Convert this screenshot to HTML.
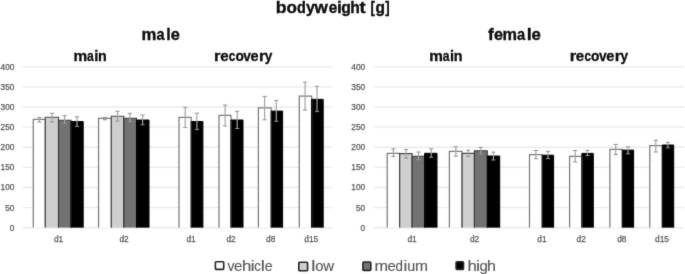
<!DOCTYPE html>
<html><head><meta charset="utf-8"><title>bodyweight</title>
<style>
html,body{margin:0;padding:0;background:#fff;}
body{width:685px;height:274px;overflow:hidden;}
svg{display:block;}
text{font-family:"Liberation Sans",sans-serif;}
.ax{font-size:8.3px;fill:#595959;stroke:#595959;stroke-width:0.25px;}
.t{font-size:16.5px;font-weight:bold;fill:#0d0d0d;stroke:#0d0d0d;stroke-width:0.35px;}
.s{font-size:14.5px;font-weight:bold;fill:#0d0d0d;stroke:#0d0d0d;stroke-width:0.3px;}
.lg{font-size:14.2px;fill:#595959;stroke:#595959;stroke-width:0.15px;}
</style></head>
<body>
<svg width="685" height="274" viewBox="0 0 685 274">
<defs><filter id="bl" x="0" y="0" width="685" height="274" filterUnits="userSpaceOnUse" color-interpolation-filters="sRGB"><feConvolveMatrix order="3" kernelMatrix="0.0113 0.0838 0.0113 0.0838 0.6193 0.0838 0.0113 0.0838 0.0113" divisor="1" edgeMode="duplicate"/></filter></defs>
<g filter="url(#bl)">
<rect width="685" height="274" fill="#fff"/>
<line x1="22.6" y1="227.80" x2="331.5" y2="227.80" stroke="#ebebeb" stroke-width="1.4"/>
<line x1="373.8" y1="227.80" x2="684" y2="227.80" stroke="#ebebeb" stroke-width="1.4"/>
<text x="14.4" y="230.70" text-anchor="end" class="ax">0</text>
<text x="365.2" y="230.70" text-anchor="end" class="ax">0</text>
<line x1="22.6" y1="207.66" x2="331.5" y2="207.66" stroke="#ebebeb" stroke-width="1.4"/>
<line x1="373.8" y1="207.66" x2="684" y2="207.66" stroke="#ebebeb" stroke-width="1.4"/>
<text x="14.4" y="210.56" text-anchor="end" class="ax">50</text>
<text x="365.2" y="210.56" text-anchor="end" class="ax">50</text>
<line x1="22.6" y1="187.53" x2="331.5" y2="187.53" stroke="#ebebeb" stroke-width="1.4"/>
<line x1="373.8" y1="187.53" x2="684" y2="187.53" stroke="#ebebeb" stroke-width="1.4"/>
<text x="14.4" y="190.43" text-anchor="end" class="ax">100</text>
<text x="365.2" y="190.43" text-anchor="end" class="ax">100</text>
<line x1="22.6" y1="167.39" x2="331.5" y2="167.39" stroke="#ebebeb" stroke-width="1.4"/>
<line x1="373.8" y1="167.39" x2="684" y2="167.39" stroke="#ebebeb" stroke-width="1.4"/>
<text x="14.4" y="170.29" text-anchor="end" class="ax">150</text>
<text x="365.2" y="170.29" text-anchor="end" class="ax">150</text>
<line x1="22.6" y1="147.25" x2="331.5" y2="147.25" stroke="#ebebeb" stroke-width="1.4"/>
<line x1="373.8" y1="147.25" x2="684" y2="147.25" stroke="#ebebeb" stroke-width="1.4"/>
<text x="14.4" y="150.15" text-anchor="end" class="ax">200</text>
<text x="365.2" y="150.15" text-anchor="end" class="ax">200</text>
<line x1="22.6" y1="127.11" x2="331.5" y2="127.11" stroke="#ebebeb" stroke-width="1.4"/>
<line x1="373.8" y1="127.11" x2="684" y2="127.11" stroke="#ebebeb" stroke-width="1.4"/>
<text x="14.4" y="130.01" text-anchor="end" class="ax">250</text>
<text x="365.2" y="130.01" text-anchor="end" class="ax">250</text>
<line x1="22.6" y1="106.98" x2="331.5" y2="106.98" stroke="#ebebeb" stroke-width="1.4"/>
<line x1="373.8" y1="106.98" x2="684" y2="106.98" stroke="#ebebeb" stroke-width="1.4"/>
<text x="14.4" y="109.88" text-anchor="end" class="ax">300</text>
<text x="365.2" y="109.88" text-anchor="end" class="ax">300</text>
<line x1="22.6" y1="86.84" x2="331.5" y2="86.84" stroke="#ebebeb" stroke-width="1.4"/>
<line x1="373.8" y1="86.84" x2="684" y2="86.84" stroke="#ebebeb" stroke-width="1.4"/>
<text x="14.4" y="89.74" text-anchor="end" class="ax">350</text>
<text x="365.2" y="89.74" text-anchor="end" class="ax">350</text>
<line x1="22.6" y1="66.70" x2="331.5" y2="66.70" stroke="#ebebeb" stroke-width="1.4"/>
<line x1="373.8" y1="66.70" x2="684" y2="66.70" stroke="#ebebeb" stroke-width="1.4"/>
<text x="14.4" y="69.60" text-anchor="end" class="ax">400</text>
<text x="365.2" y="69.60" text-anchor="end" class="ax">400</text>
<rect x="33.30" y="119.40" width="11.95" height="108.20" fill="#ffffff"/>
<rect x="45.25" y="117.20" width="13.25" height="110.40" fill="#cfcfcf"/>
<rect x="58.50" y="120.30" width="12.50" height="107.30" fill="#727272"/>
<rect x="71.00" y="121.60" width="12.20" height="106.00" fill="#000000"/>
<rect x="98.55" y="118.30" width="12.75" height="109.30" fill="#ffffff"/>
<rect x="111.30" y="116.30" width="12.50" height="111.30" fill="#cfcfcf"/>
<rect x="123.80" y="118.30" width="12.70" height="109.30" fill="#727272"/>
<rect x="136.50" y="120.00" width="12.50" height="107.60" fill="#000000"/>
<rect x="179.00" y="117.30" width="12.20" height="110.30" fill="#ffffff"/>
<rect x="191.20" y="121.50" width="11.70" height="106.10" fill="#000000"/>
<rect x="219.00" y="115.30" width="12.00" height="112.30" fill="#ffffff"/>
<rect x="231.00" y="120.00" width="12.00" height="107.60" fill="#000000"/>
<rect x="258.40" y="107.80" width="12.80" height="119.80" fill="#ffffff"/>
<rect x="271.20" y="111.10" width="11.40" height="116.50" fill="#000000"/>
<rect x="299.30" y="96.00" width="12.30" height="131.60" fill="#ffffff"/>
<rect x="311.60" y="99.30" width="11.60" height="128.30" fill="#000000"/>
<rect x="387.20" y="153.30" width="12.40" height="74.30" fill="#ffffff"/>
<rect x="399.60" y="153.60" width="12.50" height="74.00" fill="#cfcfcf"/>
<rect x="412.10" y="156.20" width="12.50" height="71.40" fill="#727272"/>
<rect x="424.60" y="153.30" width="12.40" height="74.30" fill="#000000"/>
<rect x="449.40" y="151.40" width="12.60" height="76.20" fill="#ffffff"/>
<rect x="462.00" y="153.40" width="12.40" height="74.20" fill="#cfcfcf"/>
<rect x="474.40" y="150.80" width="12.90" height="76.80" fill="#727272"/>
<rect x="487.30" y="156.00" width="12.40" height="71.60" fill="#000000"/>
<rect x="529.50" y="154.60" width="12.70" height="73.00" fill="#ffffff"/>
<rect x="542.20" y="155.20" width="11.40" height="72.40" fill="#000000"/>
<rect x="569.60" y="156.40" width="12.30" height="71.20" fill="#ffffff"/>
<rect x="581.90" y="153.40" width="11.40" height="74.20" fill="#000000"/>
<rect x="609.90" y="149.30" width="12.40" height="78.30" fill="#ffffff"/>
<rect x="622.30" y="150.10" width="11.30" height="77.50" fill="#000000"/>
<rect x="649.80" y="145.70" width="12.50" height="81.90" fill="#ffffff"/>
<rect x="662.30" y="145.00" width="11.40" height="82.60" fill="#000000"/>
<path d="M33.30 227.60V119.40H45.25V227.60" fill="none" stroke="#7c7c7c" stroke-width="1.25"/>
<path d="M45.25 227.60V117.20H58.50V227.60" fill="none" stroke="#4a4a4a" stroke-width="1.1"/>
<path d="M58.50 227.60V120.30H71.00V227.60" fill="none" stroke="#3c3c3c" stroke-width="1.1"/>
<path d="M71.00 227.60V121.60H83.20V227.60" fill="none" stroke="#000000" stroke-width="1.0"/>
<path d="M98.55 227.60V118.30H111.30V227.60" fill="none" stroke="#7c7c7c" stroke-width="1.25"/>
<path d="M111.30 227.60V116.30H123.80V227.60" fill="none" stroke="#4a4a4a" stroke-width="1.1"/>
<path d="M123.80 227.60V118.30H136.50V227.60" fill="none" stroke="#3c3c3c" stroke-width="1.1"/>
<path d="M136.50 227.60V120.00H149.00V227.60" fill="none" stroke="#000000" stroke-width="1.0"/>
<path d="M179.00 227.60V117.30H191.20V227.60" fill="none" stroke="#7c7c7c" stroke-width="1.25"/>
<path d="M191.20 227.60V121.50H202.90V227.60" fill="none" stroke="#000000" stroke-width="1.0"/>
<path d="M219.00 227.60V115.30H231.00V227.60" fill="none" stroke="#7c7c7c" stroke-width="1.25"/>
<path d="M231.00 227.60V120.00H243.00V227.60" fill="none" stroke="#000000" stroke-width="1.0"/>
<path d="M258.40 227.60V107.80H271.20V227.60" fill="none" stroke="#7c7c7c" stroke-width="1.25"/>
<path d="M271.20 227.60V111.10H282.60V227.60" fill="none" stroke="#000000" stroke-width="1.0"/>
<path d="M299.30 227.60V96.00H311.60V227.60" fill="none" stroke="#7c7c7c" stroke-width="1.25"/>
<path d="M311.60 227.60V99.30H323.20V227.60" fill="none" stroke="#000000" stroke-width="1.0"/>
<path d="M387.20 227.60V153.30H399.60V227.60" fill="none" stroke="#7c7c7c" stroke-width="1.25"/>
<path d="M399.60 227.60V153.60H412.10V227.60" fill="none" stroke="#4a4a4a" stroke-width="1.1"/>
<path d="M412.10 227.60V156.20H424.60V227.60" fill="none" stroke="#3c3c3c" stroke-width="1.1"/>
<path d="M424.60 227.60V153.30H437.00V227.60" fill="none" stroke="#000000" stroke-width="1.0"/>
<path d="M449.40 227.60V151.40H462.00V227.60" fill="none" stroke="#7c7c7c" stroke-width="1.25"/>
<path d="M462.00 227.60V153.40H474.40V227.60" fill="none" stroke="#4a4a4a" stroke-width="1.1"/>
<path d="M474.40 227.60V150.80H487.30V227.60" fill="none" stroke="#3c3c3c" stroke-width="1.1"/>
<path d="M487.30 227.60V156.00H499.70V227.60" fill="none" stroke="#000000" stroke-width="1.0"/>
<path d="M529.50 227.60V154.60H542.20V227.60" fill="none" stroke="#7c7c7c" stroke-width="1.25"/>
<path d="M542.20 227.60V155.20H553.60V227.60" fill="none" stroke="#000000" stroke-width="1.0"/>
<path d="M569.60 227.60V156.40H581.90V227.60" fill="none" stroke="#7c7c7c" stroke-width="1.25"/>
<path d="M581.90 227.60V153.40H593.30V227.60" fill="none" stroke="#000000" stroke-width="1.0"/>
<path d="M609.90 227.60V149.30H622.30V227.60" fill="none" stroke="#7c7c7c" stroke-width="1.25"/>
<path d="M622.30 227.60V150.10H633.60V227.60" fill="none" stroke="#000000" stroke-width="1.0"/>
<path d="M649.80 227.60V145.70H662.30V227.60" fill="none" stroke="#7c7c7c" stroke-width="1.25"/>
<path d="M662.30 227.60V145.00H673.70V227.60" fill="none" stroke="#000000" stroke-width="1.0"/>
<path d="M39.40 117.50V122.00" stroke="#a3a3a3" stroke-width="1.2" fill="none"/>
<path d="M37.30 117.50H41.50M37.30 122.00H41.50" stroke="#939393" stroke-width="1.0" fill="none"/>
<path d="M52.10 113.30V122.00" stroke="#a3a3a3" stroke-width="1.2" fill="none"/>
<path d="M50.00 113.30H54.20M50.00 122.00H54.20" stroke="#939393" stroke-width="1.0" fill="none"/>
<path d="M64.60 115.70V123.60" stroke="#a3a3a3" stroke-width="1.2" fill="none"/>
<path d="M62.50 115.70H66.70M62.50 123.60H66.70" stroke="#939393" stroke-width="1.0" fill="none"/>
<path d="M77.00 116.80V126.40" stroke="#a3a3a3" stroke-width="1.2" fill="none"/>
<path d="M74.90 116.80H79.10M74.90 126.40H79.10" stroke="#939393" stroke-width="1.0" fill="none"/>
<path d="M104.90 117.40V119.80" stroke="#a3a3a3" stroke-width="1.2" fill="none"/>
<path d="M102.80 117.40H107.00M102.80 119.80H107.00" stroke="#939393" stroke-width="1.0" fill="none"/>
<path d="M117.50 111.30V121.10" stroke="#a3a3a3" stroke-width="1.2" fill="none"/>
<path d="M115.40 111.30H119.60M115.40 121.10H119.60" stroke="#939393" stroke-width="1.0" fill="none"/>
<path d="M129.90 113.40V121.60" stroke="#a3a3a3" stroke-width="1.2" fill="none"/>
<path d="M127.80 113.40H132.00M127.80 121.60H132.00" stroke="#939393" stroke-width="1.0" fill="none"/>
<path d="M142.60 115.00V124.80" stroke="#a3a3a3" stroke-width="1.2" fill="none"/>
<path d="M140.50 115.00H144.70M140.50 124.80H144.70" stroke="#939393" stroke-width="1.0" fill="none"/>
<path d="M185.20 107.30V127.60" stroke="#a3a3a3" stroke-width="1.2" fill="none"/>
<path d="M183.10 107.30H187.30M183.10 127.60H187.30" stroke="#939393" stroke-width="1.0" fill="none"/>
<path d="M196.90 113.20V129.60" stroke="#a3a3a3" stroke-width="1.2" fill="none"/>
<path d="M194.80 113.20H199.00M194.80 129.60H199.00" stroke="#939393" stroke-width="1.0" fill="none"/>
<path d="M225.10 105.00V126.00" stroke="#a3a3a3" stroke-width="1.2" fill="none"/>
<path d="M223.00 105.00H227.20M223.00 126.00H227.20" stroke="#939393" stroke-width="1.0" fill="none"/>
<path d="M237.20 111.30V128.50" stroke="#a3a3a3" stroke-width="1.2" fill="none"/>
<path d="M235.10 111.30H239.30M235.10 128.50H239.30" stroke="#939393" stroke-width="1.0" fill="none"/>
<path d="M264.60 96.40V119.80" stroke="#a3a3a3" stroke-width="1.2" fill="none"/>
<path d="M262.50 96.40H266.70M262.50 119.80H266.70" stroke="#939393" stroke-width="1.0" fill="none"/>
<path d="M276.30 100.40V121.30" stroke="#a3a3a3" stroke-width="1.2" fill="none"/>
<path d="M274.20 100.40H278.40M274.20 121.30H278.40" stroke="#939393" stroke-width="1.0" fill="none"/>
<path d="M305.10 82.20V110.00" stroke="#a3a3a3" stroke-width="1.2" fill="none"/>
<path d="M303.00 82.20H307.20M303.00 110.00H307.20" stroke="#939393" stroke-width="1.0" fill="none"/>
<path d="M317.00 86.30V111.60" stroke="#a3a3a3" stroke-width="1.2" fill="none"/>
<path d="M314.90 86.30H319.10M314.90 111.60H319.10" stroke="#939393" stroke-width="1.0" fill="none"/>
<path d="M393.40 148.80V156.60" stroke="#a3a3a3" stroke-width="1.2" fill="none"/>
<path d="M391.30 148.80H395.50M391.30 156.60H395.50" stroke="#939393" stroke-width="1.0" fill="none"/>
<path d="M406.10 149.40V158.10" stroke="#a3a3a3" stroke-width="1.2" fill="none"/>
<path d="M404.00 149.40H408.20M404.00 158.10H408.20" stroke="#939393" stroke-width="1.0" fill="none"/>
<path d="M418.50 152.00V159.70" stroke="#a3a3a3" stroke-width="1.2" fill="none"/>
<path d="M416.40 152.00H420.60M416.40 159.70H420.60" stroke="#939393" stroke-width="1.0" fill="none"/>
<path d="M431.20 148.80V157.30" stroke="#a3a3a3" stroke-width="1.2" fill="none"/>
<path d="M429.10 148.80H433.30M429.10 157.30H433.30" stroke="#939393" stroke-width="1.0" fill="none"/>
<path d="M455.90 146.80V156.20" stroke="#a3a3a3" stroke-width="1.2" fill="none"/>
<path d="M453.80 146.80H458.00M453.80 156.20H458.00" stroke="#939393" stroke-width="1.0" fill="none"/>
<path d="M468.20 150.20V156.40" stroke="#a3a3a3" stroke-width="1.2" fill="none"/>
<path d="M466.10 150.20H470.30M466.10 156.40H470.30" stroke="#939393" stroke-width="1.0" fill="none"/>
<path d="M480.70 147.40V154.00" stroke="#a3a3a3" stroke-width="1.2" fill="none"/>
<path d="M478.60 147.40H482.80M478.60 154.00H482.80" stroke="#939393" stroke-width="1.0" fill="none"/>
<path d="M493.40 152.10V160.00" stroke="#a3a3a3" stroke-width="1.2" fill="none"/>
<path d="M491.30 152.10H495.50M491.30 160.00H495.50" stroke="#939393" stroke-width="1.0" fill="none"/>
<path d="M535.90 150.50V158.70" stroke="#a3a3a3" stroke-width="1.2" fill="none"/>
<path d="M533.80 150.50H538.00M533.80 158.70H538.00" stroke="#939393" stroke-width="1.0" fill="none"/>
<path d="M548.00 151.40V158.70" stroke="#a3a3a3" stroke-width="1.2" fill="none"/>
<path d="M545.90 151.40H550.10M545.90 158.70H550.10" stroke="#939393" stroke-width="1.0" fill="none"/>
<path d="M575.20 150.50V162.00" stroke="#a3a3a3" stroke-width="1.2" fill="none"/>
<path d="M573.10 150.50H577.30M573.10 162.00H577.30" stroke="#939393" stroke-width="1.0" fill="none"/>
<path d="M587.50 150.30V155.50" stroke="#a3a3a3" stroke-width="1.2" fill="none"/>
<path d="M585.40 150.30H589.60M585.40 155.50H589.60" stroke="#939393" stroke-width="1.0" fill="none"/>
<path d="M615.70 144.40V154.50" stroke="#a3a3a3" stroke-width="1.2" fill="none"/>
<path d="M613.60 144.40H617.80M613.60 154.50H617.80" stroke="#939393" stroke-width="1.0" fill="none"/>
<path d="M628.00 146.90V153.70" stroke="#a3a3a3" stroke-width="1.2" fill="none"/>
<path d="M625.90 146.90H630.10M625.90 153.70H630.10" stroke="#939393" stroke-width="1.0" fill="none"/>
<path d="M655.80 140.30V152.00" stroke="#a3a3a3" stroke-width="1.2" fill="none"/>
<path d="M653.70 140.30H657.90M653.70 152.00H657.90" stroke="#939393" stroke-width="1.0" fill="none"/>
<path d="M667.80 142.30V147.80" stroke="#a3a3a3" stroke-width="1.2" fill="none"/>
<path d="M665.70 142.30H669.90M665.70 147.80H669.90" stroke="#939393" stroke-width="1.0" fill="none"/>
<text x="58.50" y="242.2" text-anchor="middle" class="ax">d1</text>
<text x="124.00" y="242.2" text-anchor="middle" class="ax">d2</text>
<text x="191.00" y="242.2" text-anchor="middle" class="ax">d1</text>
<text x="231.00" y="242.2" text-anchor="middle" class="ax">d2</text>
<text x="270.70" y="242.2" text-anchor="middle" class="ax">d8</text>
<text x="311.20" y="242.2" text-anchor="middle" class="ax">d15</text>
<text x="412.00" y="242.2" text-anchor="middle" class="ax">d1</text>
<text x="474.50" y="242.2" text-anchor="middle" class="ax">d2</text>
<text x="541.90" y="242.2" text-anchor="middle" class="ax">d1</text>
<text x="581.20" y="242.2" text-anchor="middle" class="ax">d2</text>
<text x="621.80" y="242.2" text-anchor="middle" class="ax">d8</text>
<text x="662.00" y="242.2" text-anchor="middle" class="ax">d15</text>
<text transform="translate(275.69 13.2) scale(1.070 1)" class="t">b</text>
<text transform="translate(286.48 13.2) scale(1.035 1)" class="t">o</text>
<text transform="translate(296.96 13.2) scale(0.878 1)" class="t">d</text>
<text transform="translate(305.92 13.2) scale(0.971 1)" class="t">y</text>
<text transform="translate(314.60 13.2) scale(1.038 1)" class="t">w</text>
<text transform="translate(328.75 13.2) scale(0.929 1)" class="t">e</text>
<text transform="translate(337.03 13.2) scale(1.060 1)" class="t">i</text>
<text transform="translate(341.31 13.2) scale(0.952 1)" class="t">g</text>
<text transform="translate(350.36 13.2) scale(0.949 1)" class="t">h</text>
<text transform="translate(359.42 13.2) scale(1.119 1)" class="t">t</text>
<text transform="translate(370.51 13.2) scale(0.800 1)" class="t">[</text>
<text transform="translate(375.51 13.2) scale(0.940 1)" class="t">g</text>
<text transform="translate(385.19 13.2) scale(0.800 1)" class="t">]</text>
<text transform="translate(141.55 39.8) scale(1.011 1)" class="t">m</text>
<text transform="translate(156.43 39.8) scale(0.875 1)" class="t">a</text>
<text transform="translate(166.23 39.8) scale(0.972 1)" class="t">l</text>
<text transform="translate(170.81 39.8) scale(0.991 1)" class="t">e</text>
<text transform="translate(488.05 39.8) scale(1.049 1)" class="t">f</text>
<text transform="translate(493.92 39.8) scale(0.979 1)" class="t">e</text>
<text transform="translate(502.58 39.8) scale(0.987 1)" class="t">m</text>
<text transform="translate(517.02 39.8) scale(0.887 1)" class="t">a</text>
<text transform="translate(526.68 39.8) scale(1.104 1)" class="t">l</text>
<text transform="translate(531.59 39.8) scale(1.017 1)" class="t">e</text>
<text transform="translate(73.54 60.5) scale(1.060 1)" class="s">m</text>
<text transform="translate(86.99 60.5) scale(0.841 1)" class="s">a</text>
<text transform="translate(94.13 60.5) scale(1.005 1)" class="s">i</text>
<text transform="translate(97.91 60.5) scale(0.985 1)" class="s">n</text>
<text transform="translate(429.34 60.5) scale(1.060 1)" class="s">m</text>
<text transform="translate(442.79 60.5) scale(0.841 1)" class="s">a</text>
<text transform="translate(449.93 60.5) scale(1.005 1)" class="s">i</text>
<text transform="translate(453.71 60.5) scale(0.985 1)" class="s">n</text>
<text transform="translate(213.96 60.5) scale(1.142 1)" class="s">r</text>
<text transform="translate(220.16 60.5) scale(1.043 1)" class="s">e</text>
<text transform="translate(228.69 60.5) scale(0.806 1)" class="s">c</text>
<text transform="translate(235.41 60.5) scale(0.945 1)" class="s">o</text>
<text transform="translate(243.30 60.5) scale(0.944 1)" class="s">v</text>
<text transform="translate(250.58 60.5) scale(1.000 1)" class="s">e</text>
<text transform="translate(259.08 60.5) scale(1.119 1)" class="s">r</text>
<text transform="translate(264.74 60.5) scale(0.940 1)" class="s">y</text>
<text transform="translate(569.66 60.5) scale(1.142 1)" class="s">r</text>
<text transform="translate(575.86 60.5) scale(1.043 1)" class="s">e</text>
<text transform="translate(584.39 60.5) scale(0.806 1)" class="s">c</text>
<text transform="translate(591.11 60.5) scale(0.945 1)" class="s">o</text>
<text transform="translate(599.00 60.5) scale(0.944 1)" class="s">v</text>
<text transform="translate(606.28 60.5) scale(1.000 1)" class="s">e</text>
<text transform="translate(614.78 60.5) scale(1.119 1)" class="s">r</text>
<text transform="translate(620.44 60.5) scale(0.940 1)" class="s">y</text>
<rect x="215.40" y="261.70" width="8.30" height="7.70" rx="0.8" fill="#ffffff" stroke="#262626" stroke-width="1.6"/>
<rect x="298.80" y="262.20" width="8.80" height="8.60" rx="0.8" fill="#cfcfcf" stroke="#262626" stroke-width="1.6"/>
<rect x="362.90" y="262.00" width="7.90" height="8.40" rx="0.8" fill="#727272" stroke="#262626" stroke-width="1.6"/>
<rect x="456.10" y="261.70" width="7.40" height="7.70" rx="0.8" fill="#000000" stroke="#262626" stroke-width="1.6"/>
<text transform="translate(227.60 270.8) scale(0.971 1)" class="lg">v</text>
<text transform="translate(234.11 270.8) scale(1.066 1)" class="lg">e</text>
<text transform="translate(242.08 270.8) scale(1.185 1)" class="lg">h</text>
<text transform="translate(250.81 270.8) scale(1.202 1)" class="lg">i</text>
<text transform="translate(254.20 270.8) scale(0.915 1)" class="lg">c</text>
<text transform="translate(260.74 270.8) scale(1.300 1)" class="lg">l</text>
<text transform="translate(264.64 270.8) scale(1.006 1)" class="lg">e</text>
<text transform="translate(311.14 270.8) scale(1.300 1)" class="lg">l</text>
<text transform="translate(315.13 270.8) scale(1.044 1)" class="lg">o</text>
<text transform="translate(323.37 270.8) scale(1.057 1)" class="lg">w</text>
<text transform="translate(374.57 270.8) scale(1.146 1)" class="lg">m</text>
<text transform="translate(387.52 270.8) scale(1.051 1)" class="lg">e</text>
<text transform="translate(395.49 270.8) scale(0.940 1)" class="lg">d</text>
<text transform="translate(403.51 270.8) scale(1.202 1)" class="lg">i</text>
<text transform="translate(407.32 270.8) scale(1.011 1)" class="lg">u</text>
<text transform="translate(415.12 270.8) scale(1.096 1)" class="lg">m</text>
<text transform="translate(467.48 270.8) scale(1.185 1)" class="lg">h</text>
<text transform="translate(476.10 270.8) scale(1.300 1)" class="lg">i</text>
<text transform="translate(479.52 270.8) scale(1.065 1)" class="lg">g</text>
<text transform="translate(486.93 270.8) scale(1.135 1)" class="lg">h</text>
</g>
</svg>
</body></html>
